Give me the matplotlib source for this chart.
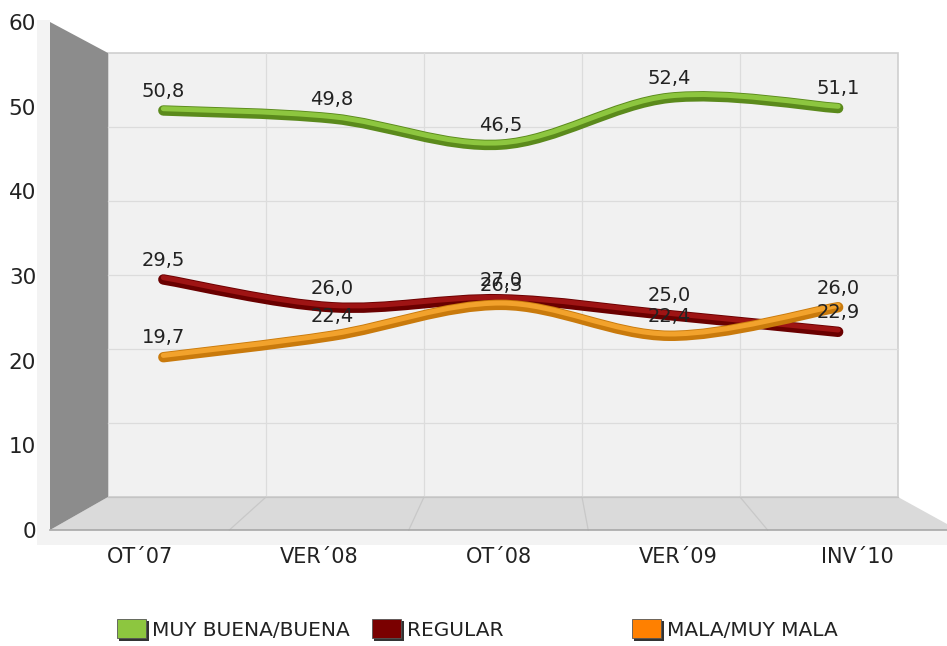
import numpy as np
import matplotlib
matplotlib.use('Agg')
import matplotlib.pyplot as plt
from matplotlib.patches import Polygon, Rectangle, PathPatch
from matplotlib.path import Path
from matplotlib.transforms import offset_copy

# datos
periodos = ['OT´07', 'VER´08', 'OT´08', 'VER´09', 'INV´10']
muy_buena = [50.8, 49.8, 46.5, 52.4, 51.1]
regular = [29.5, 26.0, 27.0, 25.0, 22.9]
mala = [19.7, 22.4, 26.3, 22.4, 26.0]
series = ['MUY BUENA/BUENA', 'REGULAR', 'MALA/MUY MALA']

W, H = 947, 646
fig = plt.figure(figsize=(W / 100, H / 100), dpi=100)
fig.patch.set_facecolor('white')
plt.rcParams['font.family'] = ['DejaVu Sans']


def px_axes(x0, y0, x1, y1):
    # y0 arriba, y1 abajo (pixeles)
    return fig.add_axes([x0 / W, 1 - y1 / H, (x1 - x0) / W, (y1 - y0) / H])


# fondo "3D" en pixeles
bg = fig.add_axes([0, 0, 1, 1])
bg.set_xlim(0, W)
bg.set_ylim(H, 0)
bg.axis('off')

bg.add_patch(Rectangle((37, 20), 13, 525, color='#f3f3f3', lw=0))
bg.add_patch(Rectangle((37, 530), 910, 15, color='#f3f3f3', lw=0))
bg.add_patch(Rectangle((108, 53), 790, 444, facecolor='#f1f1f1', edgecolor='#cfcfcf', lw=1.2))
for v in range(10, 60, 10):
    y = 497 - v * 7.4
    bg.plot([108, 898], [y, y], color='#dcdcdc', lw=0.9)
for k in range(1, 5):
    xb = 108 + k * 158
    bg.plot([xb, xb], [53, 497], color='#dcdcdc', lw=0.9)
bg.add_patch(Polygon([(108, 497), (898, 497), (947, 524), (947, 530), (50, 530)],
                     closed=True, facecolor='#dadada', edgecolor='none'))
for k in range(1, 5):
    xb = 108 + k * 158
    xf = 50 + k * 179.4
    bg.plot([xb, xf], [497, 530], color='#c8c8c8', lw=0.9)
bg.plot([108, 898], [497, 497], color='#c4c4c4', lw=0.9)
bg.plot([50, 947], [530, 530], color='#a8a8a8', lw=1.2)
bg.add_patch(Polygon([(50, 22), (108, 53), (108, 497), (50, 530)],
                     closed=True, facecolor='#8c8c8c', edgecolor='none'))

# ejes frontales (solo etiquetas)
fx = px_axes(50, 22, 947, 530)
fx.set_xlim(-0.5, 4.5)
fx.set_ylim(0, 60)
fx.patch.set_alpha(0)
for s in fx.spines.values():
    s.set_visible(False)
fx.set_yticks(range(0, 61, 10))
fx.set_xticks(range(len(periodos)))
fx.set_xticklabels(periodos)
fx.tick_params(axis='y', length=0, pad=10, labelsize=15.5, labelcolor='#222222')
fx.tick_params(axis='x', length=0, pad=12, labelsize=15, labelcolor='#222222')

# ejes de las lineas (plano medio)
ax = px_axes(79, 37.5, 922.5, 513.5)
ax.set_xlim(-0.5, 4.5)
ax.set_ylim(0, 60)
ax.axis('off')

colores = [('#8dc63f', '#5b8a1c'), ('#9e1414', '#6a0000'), ('#f2a22c', '#c97a0c')]


def curva(xs, ys):
    pts = np.column_stack([xs, ys])
    n = len(pts)
    verts = [pts[0]]
    codes = [Path.MOVETO]
    for i in range(n - 1):
        p0 = pts[i - 1] if i > 0 else pts[i]
        p3 = pts[i + 2] if i + 2 < n else pts[i + 1]
        c1 = pts[i] + (pts[i + 1] - p0) / 6
        c2 = pts[i + 1] - (p3 - pts[i]) / 6
        verts += [c1, c2, pts[i + 1]]
        codes += [Path.CURVE4] * 3
    return Path(verts, codes)


xs = np.arange(len(periodos))
datos = [muy_buena, regular, mala]
for vals, (claro, oscuro) in zip(datos, colores):
    path = curva(xs, vals)
    ax.add_patch(PathPatch(path, fill=False, edgecolor=oscuro, lw=7.5, capstyle='round'))
    t_up = offset_copy(ax.transData, fig=fig, x=0, y=1.3, units='points')
    ax.add_patch(PathPatch(path, fill=False, edgecolor=claro, lw=3.6,
                           capstyle='round', transform=t_up))

for vals in datos:
    for x, v in zip(xs, vals):
        ax.annotate(f'{v:.1f}'.replace('.', ','), (x, v), xytext=(0, 7),
                    textcoords='offset points', ha='center', va='bottom',
                    fontsize=14, color='#222222')

# leyenda
leg_x = [117, 372, 632]
legend_cols = ['#8dc63f', '#7a0000', '#ff8000']
for x0, c, nombre in zip(leg_x, legend_cols, series):
    bg.add_patch(Rectangle((x0 + 2, 621), 30, 20, facecolor='#333333', lw=0))
    bg.add_patch(Rectangle((x0, 619), 29, 19, facecolor=c, edgecolor='#555555', lw=0.6))
    bg.text(x0 + 35, 630, nombre, fontsize=14.5, va='center', ha='left', color='#222222')

fig.savefig('out.png', dpi=100)
